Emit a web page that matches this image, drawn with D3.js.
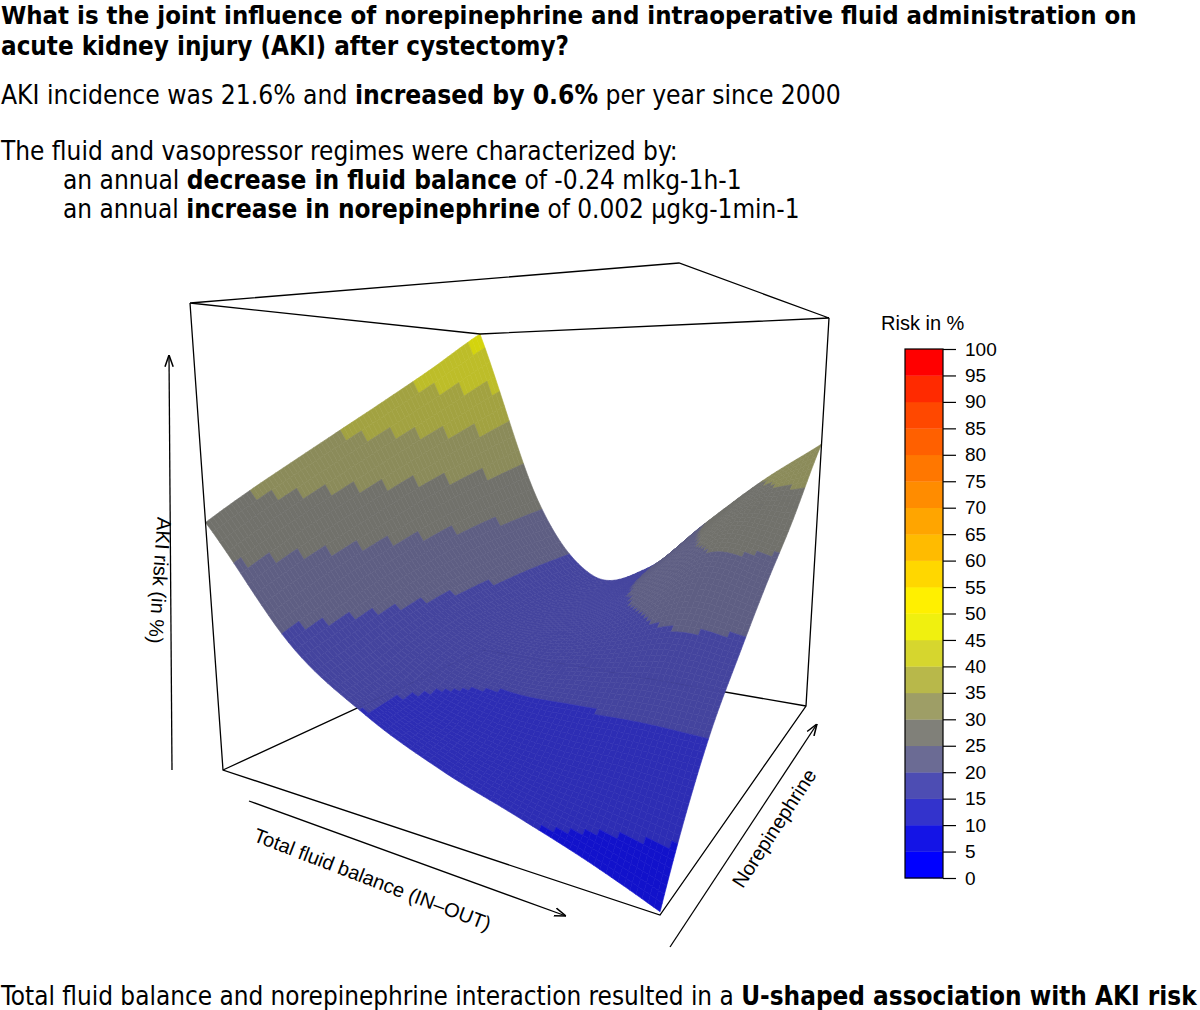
<!DOCTYPE html>
<html><head><meta charset="utf-8">
<script src="https://cdn.jsdelivr.net/npm/d3@7"></script>
<style>body{margin:0;background:#fff}svg{display:block}</style>
</head><body>
<svg id="c" width="1200" height="1010"></svg>
<script>
// ---- data ----
const fluidSteps = [0, 1, 2, 3, 4, 5, 6];        // fluid balance grid index (low -> high)
const norepiSteps = [0, 1, 2, 3, 4, 5, 6];       // norepinephrine grid index (low -> high)
// AKI risk (%) rows = norepinephrine step, columns = fluid step
const riskRow0 = [28.2, 19.2, 14.8, 12.2, 10.5, 8.9, 7.2];
const riskRow1 = [30.5, 20.5, 15.3, 13.2, 12.3, 12.0, 11.5];
const riskRow2 = [32.9, 21.8, 16.7, 15.2, 15.3, 15.6, 15.5];
const riskRow3 = [35.6, 23.1, 17.6, 16.8, 18.0, 19.5, 19.0];
const riskRow4 = [38.7, 24.4, 17.8, 17.8, 20.5, 24.0, 23.0];
const riskRow5 = [42.4, 25.5, 18.0, 18.6, 23.0, 27.5, 27.5];
const riskRow6 = [47.0, 26.5, 18.0, 19.5, 25.0, 30.0, 34.0];
const riskGrid = [riskRow0, riskRow1, riskRow2, riskRow3, riskRow4, riskRow5, riskRow6];
const riskRange = [7, 47];
const legendTicks = d3.range(0, 101, 5);
const legendColors = ["#0000ff","#1414e6","#3333cc","#4d4db3","#6b6b94","#808079","#9e9e66","#b8b84a","#d6d62e","#f0f00f",
  "#fff000","#ffd700","#ffbb00","#ffa500","#ff8c00","#ff7700","#ff6000","#ff4800","#ff2a00","#ff0000"];

const svg = d3.select("#c");
const FONT = "DejaVu Sans Condensed, DejaVu Sans, sans-serif";
const AFONT = "Liberation Sans, Arial, sans-serif";

// ---- heading text (fitted to the reference line widths) ----
function rich(x, y, parts, size, endX) {
  const t = svg.append("text").attr("x", x).attr("y", y).attr("font-family", FONT).attr("font-size", size).attr("fill", "#000");
  parts.forEach(p => t.append("tspan").attr("font-weight", p[1] ? "bold" : "normal").text(p[0]));
  const w = t.node().getComputedTextLength();
  t.attr("font-size", size * (endX - x) / w);
}
rich(1, 24, [["What is the joint influence of norepinephrine and intraoperative fluid administration on", 1]], 22, 1137);
rich(1, 55, [["acute kidney injury (AKI) after cystectomy?", 1]], 22, 569);
rich(1, 104, [["AKI incidence was 21.6% and ", 0], ["increased by 0.6%", 1], [" per year since 2000", 0]], 22, 841);
rich(1, 160, [["The fluid and vasopressor regimes were characterized by:", 0]], 22, 678);
rich(63, 189, [["an annual ", 0], ["decrease in fluid balance", 1], [" of -0.24 mlkg-1h-1", 0]], 22, 742);
rich(63, 218, [["an annual ", 0], ["increase in norepinephrine", 1], [" of 0.002 µgkg-1min-1", 0]], 22, 800);
rich(1, 1005, [["Total fluid balance and norepinephrine interaction resulted in a ", 0], ["U-shaped association with AKI risk", 1]], 22, 1197);

// ---- projection ----
const uScale = d3.scaleLinear().domain(d3.extent(fluidSteps)).range([0, 1]);
const vScale = d3.scaleLinear().domain(d3.extent(norepiSteps)).range([0, 1]);
const zScale = d3.scaleLinear().domain(riskRange).range([0, 1]);
const bot = {A:[223,770], B:[660,915], C:[806,706], D:[483,650]};
const tp = {A:[190,303], B:[679,263], C:[829,318], D:[480,334]};
function bil(q, u, v) {
  return [0,1].map(k => q.A[k]*(1-u)*(1-v) + q.B[k]*u*(1-v) + q.C[k]*u*v + q.D[k]*(1-u)*v);
}
function proj(u, v, zf) {
  const b = bil(bot, u, v), t = bil(tp, u, v);
  return [b[0] + zf*(t[0]-b[0]), b[1] + zf*(t[1]-b[1])];
}
const line = d3.line();
const color = d3.scaleThreshold().domain(legendTicks.slice(1, -1)).range(legendColors);
const shade = c => d3.rgb(color(c)).darker(0.35).formatHex();

// back box edges
const back = svg.append("g").attr("stroke", "#000").attr("stroke-width", 1.3).attr("fill", "none");
back.append("path").attr("d", line([bot.A, bot.D, bot.C]));

// ---- surface (smooth Catmull-Rom rendering between the read grid values) ----
const nF = fluidSteps.length, nN = norepiSteps.length, sub = 12;
function cr(p0, p1, p2, p3, t) {
  return 0.5 * (2*p1 + (-p0 + p2)*t + (2*p0 - 5*p1 + 4*p2 - p3)*t*t + (-p0 + 3*p1 - 3*p2 + p3)*t*t*t);
}
const cl = (k, n) => Math.max(0, Math.min(n-1, k));
function rowAt(j, fi) {
  const r = riskGrid[cl(j, nN)];
  const i = Math.min(Math.floor(fi), nF-2), t = fi - i;
  const g = k => { const kk = cl(k, nF); if (k < 0) return 2*r[0]-r[1]; if (k > nF-1) return 2*r[nF-1]-r[nF-2]; return r[kk]; };
  return cr(g(i-1), g(i), g(i+1), g(i+2), t);
}
function zAt(fi, ni) {
  const j = Math.min(Math.floor(ni), nN-2), t = ni - j;
  const g = k => { if (k < 0) return 2*rowAt(0, fi) - rowAt(1, fi); if (k > nN-1) return 2*rowAt(nN-1, fi) - rowAt(nN-2, fi); return rowAt(k, fi); };
  return cr(g(j-1), g(j), g(j+1), g(j+2), t);
}
const cells = [];
const M = (nF-1)*sub, N = (nN-1)*sub;
for (let i = 0; i < M; i++) for (let j = 0; j < N; j++) {
  const f0 = i/sub, f1 = (i+1)/sub, n0 = j/sub, n1 = (j+1)/sub;
  const corners = [[f0,n0],[f1,n0],[f1,n1],[f0,n1]];
  const pts = corners.map(c => proj(uScale(c[0]), vScale(c[1]), zScale(zAt(c[0], c[1]))));
  const zc = zAt((f0+f1)/2, (n0+n1)/2);
  cells.push({pts, zc, depth: uScale((f0+f1)/2) - vScale((n0+n1)/2)});
}
cells.sort((a, b) => a.depth - b.depth);
svg.append("g").selectAll("path").data(cells).join("path")
  .attr("d", d => line(d.pts) + "Z")
  .attr("fill", d => shade(d.zc)).attr("stroke", d => shade(d.zc)).attr("stroke-width", 0.6);

// front box edges
const fr = svg.append("g").attr("stroke", "#000").attr("stroke-width", 1.3).attr("fill", "none");
fr.append("path").attr("d", line([tp.A, tp.B, tp.C, tp.D, tp.A]));
fr.append("path").attr("d", line([tp.A, bot.A, bot.B, bot.C, tp.C]));

// ---- axis arrows & labels ----
const defs = svg.append("defs");
defs.append("marker").attr("id", "ar").attr("viewBox", "0 0 10 10").attr("refX", 10).attr("refY", 5)
  .attr("markerWidth", 9).attr("markerHeight", 9).attr("orient", "auto-start-reverse")
  .append("path").attr("d", "M0,1.5 L10,5 L0,8.5").attr("fill", "none").attr("stroke", "#000").attr("stroke-width", 1.3);
const arrows = [[[172,770],[169,355]], [[249,801],[566,916]], [[670,947],[817,724]]];
svg.append("g").selectAll("path").data(arrows).join("path").attr("d", d => line(d))
  .attr("stroke", "#000").attr("stroke-width", 1.3).attr("fill", "none").attr("marker-end", "url(#ar)");
function lab(x, y, rot, s) {
  svg.append("text").attr("transform", `translate(${x},${y}) rotate(${rot})`).attr("text-anchor", "middle")
    .attr("font-family", AFONT).attr("font-size", 20).text(s);
}
lab(153, 580, 94, "AKI risk (in %)");
lab(370, 886, 21, "Total fluid balance (IN–OUT)");
lab(780, 832, -57, "Norepinephrine");

// ---- legend ----
const ly = d3.scaleLinear().domain([0, 100]).range([878, 349]);
const lg = svg.append("g");
lg.selectAll("rect").data(legendColors).join("rect")
  .attr("x", 905).attr("width", 38).attr("y", (d, i) => ly((i+1)*5)).attr("height", (d, i) => ly(i*5) - ly((i+1)*5) + 0.3)
  .attr("fill", d => d);
lg.append("rect").attr("x", 905).attr("y", ly(100)).attr("width", 38).attr("height", ly(0) - ly(100))
  .attr("fill", "none").attr("stroke", "#000").attr("stroke-width", 1.2);
const ax = lg.append("g").attr("transform", "translate(943,0)")
  .call(d3.axisRight(ly).tickValues(legendTicks).tickSize(13).tickPadding(9));
ax.select(".domain").remove();
ax.selectAll("line").attr("stroke-width", 1.2);
ax.selectAll("text").attr("font-family", AFONT).attr("font-size", 19).attr("fill", "#000");
svg.append("text").attr("x", 881).attr("y", 330).attr("font-family", AFONT).attr("font-size", 20).text("Risk in %");
</script>
</body></html>
